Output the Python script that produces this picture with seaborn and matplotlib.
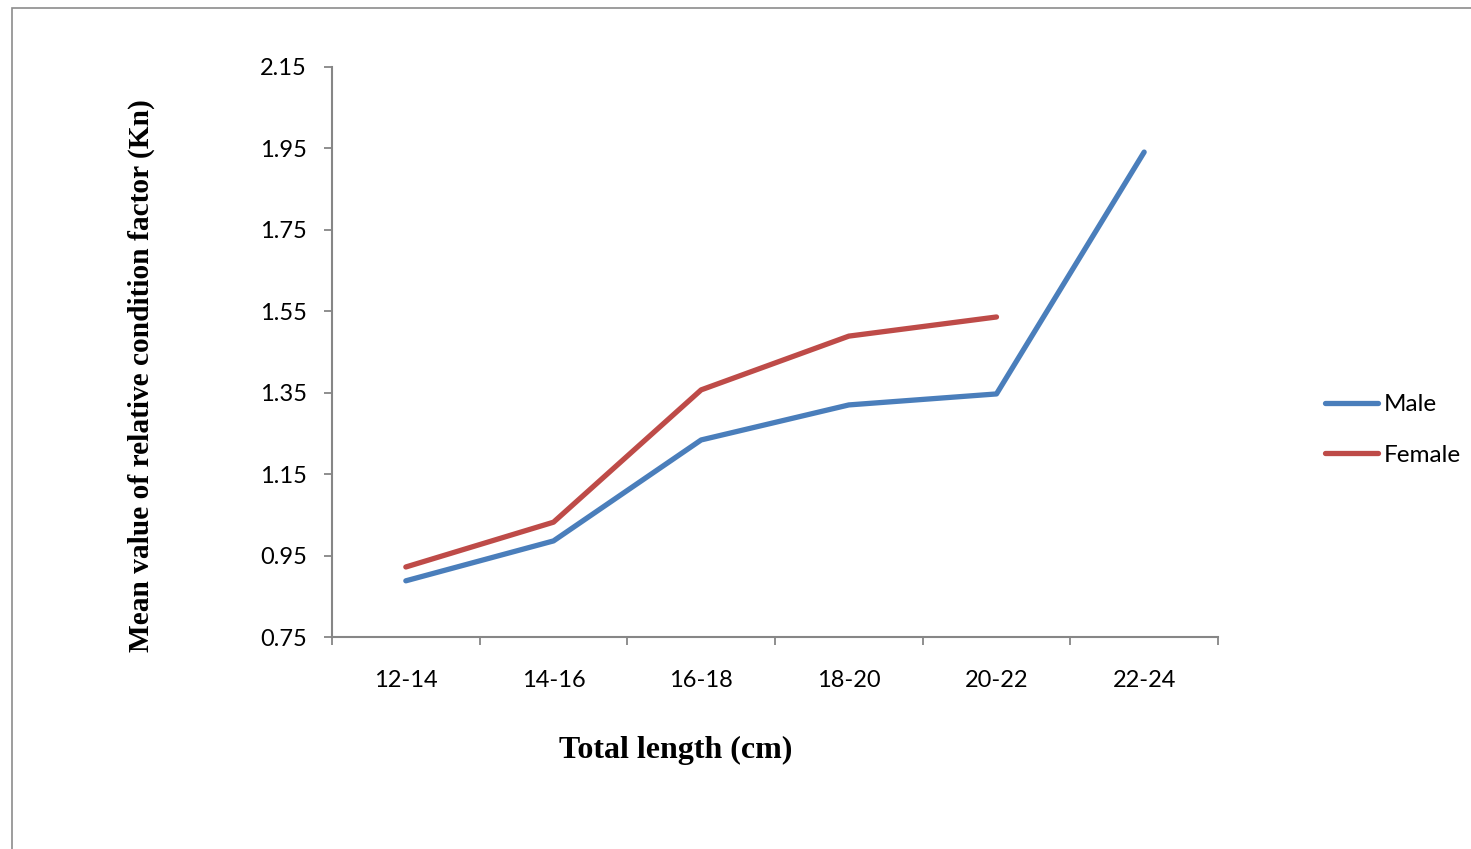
import numpy as np
import pandas as pd
import matplotlib
matplotlib.use("Agg")
import matplotlib.pyplot as plt
import seaborn as sns
from matplotlib.patches import Rectangle

# Kn by total length class
length_classes = ["12-14", "14-16", "16-18", "18-20", "20-22", "22-24"]
male_kn = [0.888, 0.986, 1.234, 1.320, 1.347, 1.941]
female_kn = [0.922, 1.032, 1.357, 1.489, 1.536, np.nan]
y_ticks = [0.75, 0.95, 1.15, 1.35, 1.55, 1.75, 1.95, 2.15]

df = pd.DataFrame({
    "length": length_classes * 2,
    "kn": male_kn + female_kn,
    "sex": ["Male"] * 6 + ["Female"] * 6,
})
df = df.dropna()

sns.set_style("white")
plt.rcParams["font.family"] = ["Lato", "DejaVu Sans"]
plt.rcParams["text.color"] = "black"
plt.rcParams["xtick.color"] = "black"
plt.rcParams["ytick.color"] = "black"

fig = plt.figure(figsize=(14.71, 8.49), dpi=100)
ax = fig.add_axes([0.2257, 0.2497, 0.6023, 0.6714])

sns.lineplot(data=df, x="length", y="kn", hue="sex", sort=False,
             palette={"Male": "#4A7EBB", "Female": "#BE4B48"},
             linewidth=3.8, ax=ax)

ax.set_xlim(-0.5, len(length_classes) - 0.5)
ax.set_ylim(y_ticks[0], y_ticks[-1])
ax.set_yticks(y_ticks)
ax.set_yticklabels([f"{t:.2f}" for t in y_ticks])
ax.set_xticks(range(len(length_classes)))
ax.set_xticklabels(length_classes)
ax.set_xticks(np.arange(-0.5, len(length_classes)), minor=True)

ax.tick_params(axis="x", which="major", length=0, pad=24, labelsize=17)
ax.tick_params(axis="x", which="minor", length=6, width=1.3, color="#868686", bottom=True)
ax.tick_params(axis="y", length=6, width=1.3, color="#868686", pad=12, labelsize=17, left=True)

for side in ["top", "right"]:
    ax.spines[side].set_visible(False)
for side in ["left", "bottom"]:
    ax.spines[side].set_color("#868686")
    ax.spines[side].set_linewidth(1.5)

ax.set_xlabel("")
ax.set_ylabel("")
fig.text(676 / 1471, 1 - 750 / 849, "Total length (cm)", ha="center", va="center",
         fontsize=23, fontweight="bold", family="Liberation Serif")
fig.text(141 / 1471, 1 - 376 / 849, "Mean value of relative condition factor (Kn)",
         ha="center", va="center", rotation=90,
         fontsize=21.2, fontweight="bold", family="Liberation Serif")

handles, labels = ax.get_legend_handles_labels()
ax.legend(handles, labels, loc="center left", bbox_to_anchor=(1325 / 1471, 1 - 430 / 849),
          bbox_transform=fig.transFigure, frameon=False, fontsize=17.5,
          handlelength=2.2, handletextpad=0.2, labelspacing=1.2,
          borderpad=0, borderaxespad=0)

fig.add_artist(Rectangle((12 / 1471, -0.02), 1.1, 1 - 8 / 849 + 0.02,
                         transform=fig.transFigure, fill=False,
                         edgecolor="#8c8c8c", linewidth=1.2))

fig.savefig("out.png", dpi=100)
